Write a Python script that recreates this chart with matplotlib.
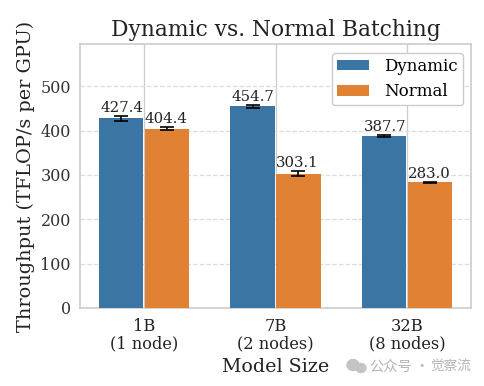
import matplotlib
matplotlib.use("Agg")
import matplotlib.pyplot as plt
import numpy as np
from matplotlib.patches import Ellipse

models = ["1B\n(1 node)", "7B\n(2 nodes)", "32B\n(8 nodes)"]
dynamic = [427.4, 454.7, 387.7]
normal = [404.4, 303.1, 283.0]
dynamic_err = [5, 3, 3]
normal_err = [3.5, 5.5, 2]
y_ticks = [0, 100, 200, 300, 400, 500]

plt.rcParams["font.family"] = ["DejaVu Serif"]

fig = plt.figure(figsize=(4.85, 3.86), dpi=100)
ax = fig.add_axes([80 / 485, 1 - 308 / 386, 391 / 485, 264 / 386])

x = np.arange(len(models))
width = 0.337

ax.bar(x - width / 2 - 0.006, dynamic, width, color="#3a75a3", label="Dynamic", zorder=3,
       yerr=dynamic_err, capsize=5, error_kw=dict(ecolor="black", elinewidth=1.2, capthick=1.2, zorder=4))
ax.bar(x + width / 2 + 0.006, normal, width, color="#e18133", label="Normal", zorder=3,
       yerr=normal_err, capsize=5, error_kw=dict(ecolor="black", elinewidth=1.2, capthick=1.2, zorder=4))

for i in range(len(models)):
    ax.text(x[i] - width / 2, dynamic[i] + dynamic_err[i] + 2, f"{dynamic[i]:.1f}",
            ha="center", va="bottom", fontsize=10.7, color="#222222", zorder=5)
    ax.text(x[i] + width / 2, normal[i] + normal_err[i] + 2, f"{normal[i]:.1f}",
            ha="center", va="bottom", fontsize=10.7, color="#222222", zorder=5)

ax.set_xlim(-0.487, 2.487)
ax.set_ylim(0, 595)
ax.set_xticks(x)
ax.set_xticklabels(models, fontsize=11.7, linespacing=1.03)
ax.set_yticks(y_ticks)
ax.tick_params(axis="y", labelsize=11.5, length=0, pad=6.5, colors="#333333")
ax.tick_params(axis="x", length=0, pad=7, colors="#222222")

ax.set_title("Dynamic vs. Normal Batching", fontsize=15.7, color="#222222", pad=6)
ax.set_xlabel("Model Size", fontsize=13.7, color="#222222", labelpad=4)
ax.set_ylabel("Throughput (TFLOP/s per GPU)", fontsize=13.9, color="#222222", labelpad=4)

ax.grid(axis="y", linestyle="--", color="#dddddd", linewidth=0.9, zorder=0)
ax.grid(axis="x", linestyle="-", color="#cccccc", linewidth=0.9, zorder=0)
ax.set_axisbelow(True)
for s in ax.spines.values():
    s.set_color("#cccccc")
    s.set_linewidth(1.2)

leg = ax.legend(loc="upper right", bbox_to_anchor=(0.9795, 0.966), fontsize=12, framealpha=1, edgecolor="#cccccc",
                borderaxespad=0, handlelength=1.9, handleheight=0.6, handletextpad=0.95,
                labelspacing=0.5, borderpad=0.3)

# watermark
fig.add_artist(Ellipse((353 / 485, 1 - 365 / 386), 12 / 485, 11 / 386, color="#c4c4c4"))
fig.add_artist(Ellipse((361 / 485, 1 - 368 / 386), 10 / 485, 9 / 386, color="#c4c4c4"))
wm_font = ["Noto Sans CJK SC", "DejaVu Sans"]
fig.text(369 / 485, 1 - 367 / 386, "公众号", fontsize=10.3, color="#b5b5b5", va="center", family=wm_font)
fig.text(414 / 485, 1 - 367 / 386, "·", fontsize=10.3, color="#b5b5b5", va="center", family=wm_font)
fig.text(430 / 485, 1 - 367 / 386, "觉察流", fontsize=9.8, color="#b5b5b5", va="center", family=wm_font)

fig.savefig("out.png", dpi=100)
plt.close(fig)
